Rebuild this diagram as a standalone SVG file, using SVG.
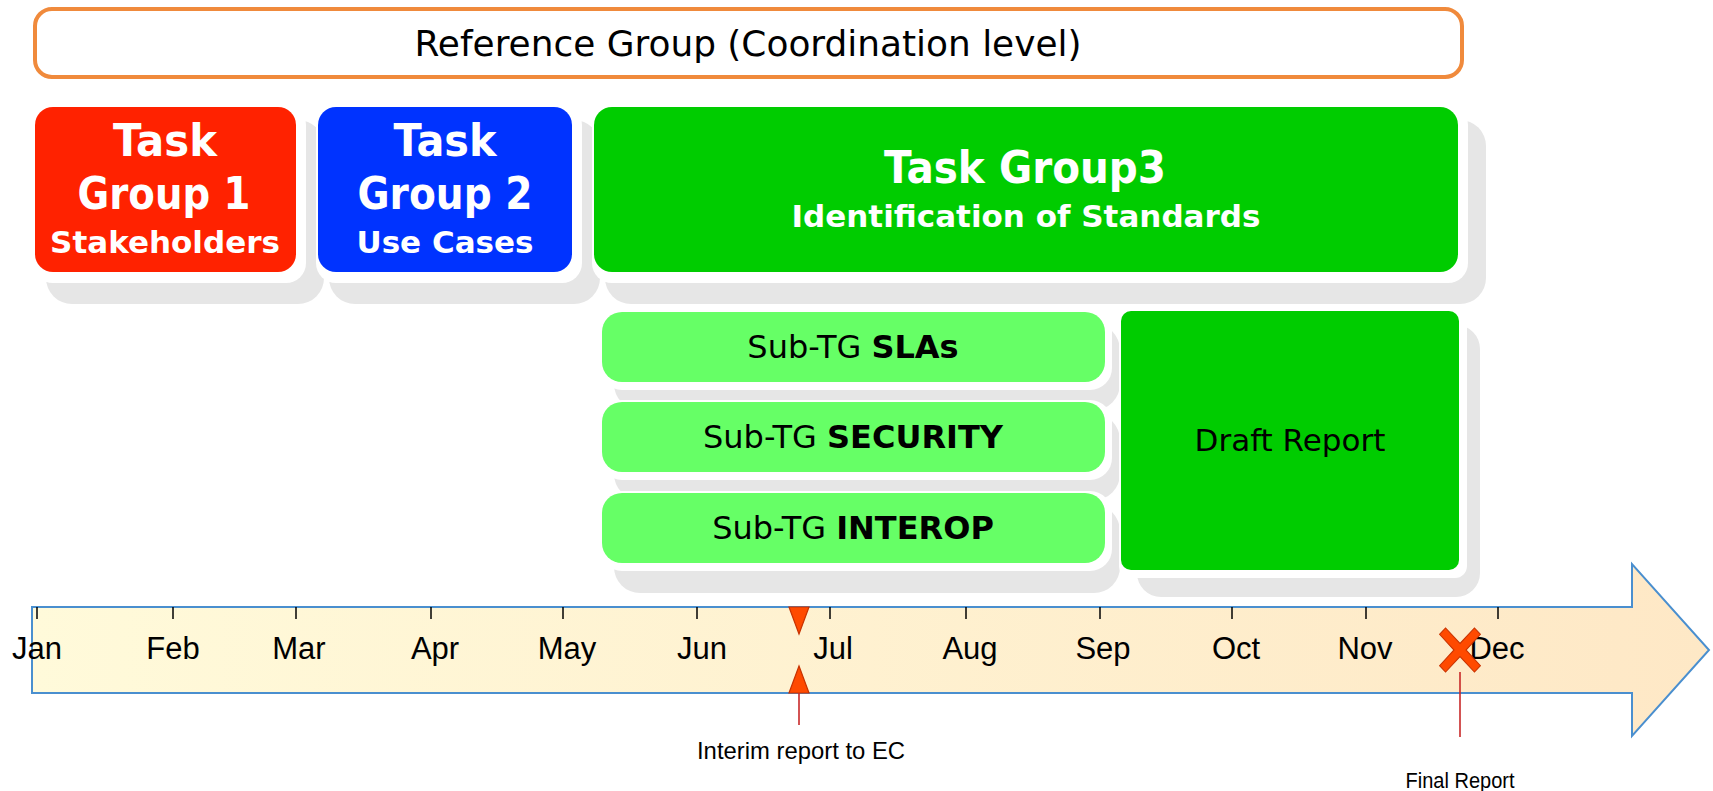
<svg xmlns="http://www.w3.org/2000/svg" width="1713" height="791" viewBox="0 0 1713 791">
<style>
.shadow{fill:#E6E6E6}
.halo{fill:#FFFFFF}
.tgt{font-family:"DejaVu Sans",Verdana,sans-serif;font-weight:bold;fill:#FFFFFF;text-anchor:middle}
.sub{fill:#66FF66}
.subt{font-family:"DejaVu Sans",Verdana,sans-serif;font-size:32px;fill:#000000;text-anchor:middle}
.mon{font-family:"Liberation Sans",Arial,sans-serif;font-size:31px;fill:#000000;text-anchor:middle}
.note{font-family:"Liberation Sans",Arial,sans-serif;fill:#000000;text-anchor:middle}
.tick{stroke:#000000;stroke-width:1.5}
.mark{fill:#FF4A00;stroke:#C83200;stroke-width:1.2}
.pin{stroke:#C82828;stroke-width:1.6}
</style>
<defs>
<linearGradient id="tl" x1="0" y1="0" x2="1" y2="0">
<stop offset="0" stop-color="#FFFADA"/>
<stop offset="1" stop-color="#FEE8C6"/>
</linearGradient>
</defs>

<g id="reference-group">
<rect x="35" y="9" width="1427" height="68" rx="17" fill="#FFFFFF" stroke="#F08A3C" stroke-width="4"/>
<text x="748" y="56" font-family="DejaVu Sans,Verdana,sans-serif" font-size="36" text-anchor="middle" fill="#000000" textLength="667" lengthAdjust="spacingAndGlyphs">Reference Group (Coordination level)</text>
</g>

<g id="task-group-1">
<rect class="shadow" x="46" y="120" width="278" height="184" rx="26"/>
<rect class="halo" x="33" y="105" width="273" height="178" rx="20"/>
<rect x="35" y="107" width="261" height="165" rx="18" fill="#FF2200"/>
<text class="tgt" x="165" y="156" font-size="45" textLength="104" lengthAdjust="spacingAndGlyphs">Task</text>
<text class="tgt" x="164" y="209" font-size="45" textLength="173" lengthAdjust="spacingAndGlyphs">Group 1</text>
<text class="tgt" x="165" y="253" font-size="31">Stakeholders</text>
</g>

<g id="task-group-2">
<rect class="shadow" x="329" y="120" width="271" height="184" rx="26"/>
<rect class="halo" x="316" y="105" width="266" height="178" rx="20"/>
<rect x="318" y="107" width="254" height="165" rx="18" fill="#0033FF"/>
<text class="tgt" x="445" y="156" font-size="45" textLength="103" lengthAdjust="spacingAndGlyphs">Task</text>
<text class="tgt" x="445" y="209" font-size="45" textLength="175" lengthAdjust="spacingAndGlyphs">Group 2</text>
<text class="tgt" x="445" y="253" font-size="31">Use Cases</text>
</g>

<g id="task-group-3">
<rect class="shadow" x="605" y="120" width="881" height="184" rx="26"/>
<rect class="halo" x="592" y="105" width="876" height="178" rx="20"/>
<rect x="594" y="107" width="864" height="165" rx="18" fill="#00CC00"/>
<text class="tgt" x="1025" y="183" font-size="45" textLength="282" lengthAdjust="spacingAndGlyphs">Task Group3</text>
<text class="tgt" x="1026" y="227" font-size="31">Identification of Standards</text>
</g>

<g id="sub-tg-slas">
<rect class="shadow" x="614" y="324" width="506" height="86" rx="26"/>
<rect class="halo" x="600" y="310" width="512" height="80" rx="22"/>
<rect class="sub" x="602" y="312" width="503" height="70" rx="20"/>
<text class="subt" x="853" y="358">Sub-TG <tspan font-weight="bold">SLAs</tspan></text>
</g>

<g id="sub-tg-security">
<rect class="shadow" x="614" y="414" width="506" height="86" rx="26"/>
<rect class="halo" x="600" y="400" width="512" height="80" rx="22"/>
<rect class="sub" x="602" y="402" width="503" height="70" rx="20"/>
<text class="subt" x="853" y="448">Sub-TG <tspan font-weight="bold">SECURITY</tspan></text>
</g>

<g id="sub-tg-interop">
<rect class="shadow" x="614" y="505" width="506" height="88" rx="26"/>
<rect class="halo" x="600" y="491" width="512" height="80" rx="22"/>
<rect class="sub" x="602" y="493" width="503" height="70" rx="20"/>
<text class="subt" x="853" y="539">Sub-TG <tspan font-weight="bold">INTEROP</tspan></text>
</g>

<g id="draft-report">
<rect class="shadow" x="1137" y="325" width="343" height="272" rx="24"/>
<rect class="halo" x="1119" y="309" width="348" height="269" rx="12"/>
<rect x="1121" y="311" width="338" height="259" rx="10" fill="#00CC00"/>
<text class="subt" x="1290" y="451" style="font-size:31px">Draft Report</text>
</g>

<g id="timeline">
<path d="M32 607 H1632 V564 L1709 650 L1632 736 V693 H32 Z" fill="url(#tl)" stroke="#4A8FCF" stroke-width="2"/>
<line class="tick" x1="37" y1="607" x2="37" y2="619"/>
<line class="tick" x1="173" y1="607" x2="173" y2="619"/>
<line class="tick" x1="296" y1="607" x2="296" y2="619"/>
<line class="tick" x1="431" y1="607" x2="431" y2="619"/>
<line class="tick" x1="563" y1="607" x2="563" y2="619"/>
<line class="tick" x1="697" y1="607" x2="697" y2="619"/>
<line class="tick" x1="830" y1="607" x2="830" y2="619"/>
<line class="tick" x1="966" y1="607" x2="966" y2="619"/>
<line class="tick" x1="1100" y1="607" x2="1100" y2="619"/>
<line class="tick" x1="1232" y1="607" x2="1232" y2="619"/>
<line class="tick" x1="1366" y1="607" x2="1366" y2="619"/>
<line class="tick" x1="1498" y1="607" x2="1498" y2="619"/>
<text class="mon" x="37" y="659">Jan</text>
<text class="mon" x="173" y="659">Feb</text>
<text class="mon" x="299" y="659">Mar</text>
<text class="mon" x="435" y="659">Apr</text>
<text class="mon" x="567" y="659">May</text>
<text class="mon" x="702" y="659">Jun</text>
<text class="mon" x="833" y="659">Jul</text>
<text class="mon" x="970" y="659">Aug</text>
<text class="mon" x="1103" y="659">Sep</text>
<text class="mon" x="1236" y="659">Oct</text>
<text class="mon" x="1365" y="659">Nov</text>
<text class="mon" x="1497" y="659">Dec</text>
</g>

<g id="interim-report">
<polygon class="mark" points="789,607 809,607 799,634"/>
<polygon class="mark" points="789,693 809,693 799,666"/>
<line class="pin" x1="799" y1="693" x2="799" y2="725"/>
<text class="note" x="801" y="759" style="font-size:24px" textLength="208" lengthAdjust="spacingAndGlyphs">Interim report to EC</text>
</g>

<g id="final-report">
<line class="pin" x1="1460" y1="672" x2="1460" y2="737"/>
<polygon class="mark" transform="translate(1460,650) scale(0.85,0.92)" points="0,-7.07 17,-24 24,-17 7.07,0 24,17 17,24 0,7.07 -17,24 -24,17 -7.07,0 -24,-17 -17,-24"/>
<text class="note" x="1460" y="788" style="font-size:22px" textLength="109" lengthAdjust="spacingAndGlyphs">Final Report</text>
</g>
</svg>
